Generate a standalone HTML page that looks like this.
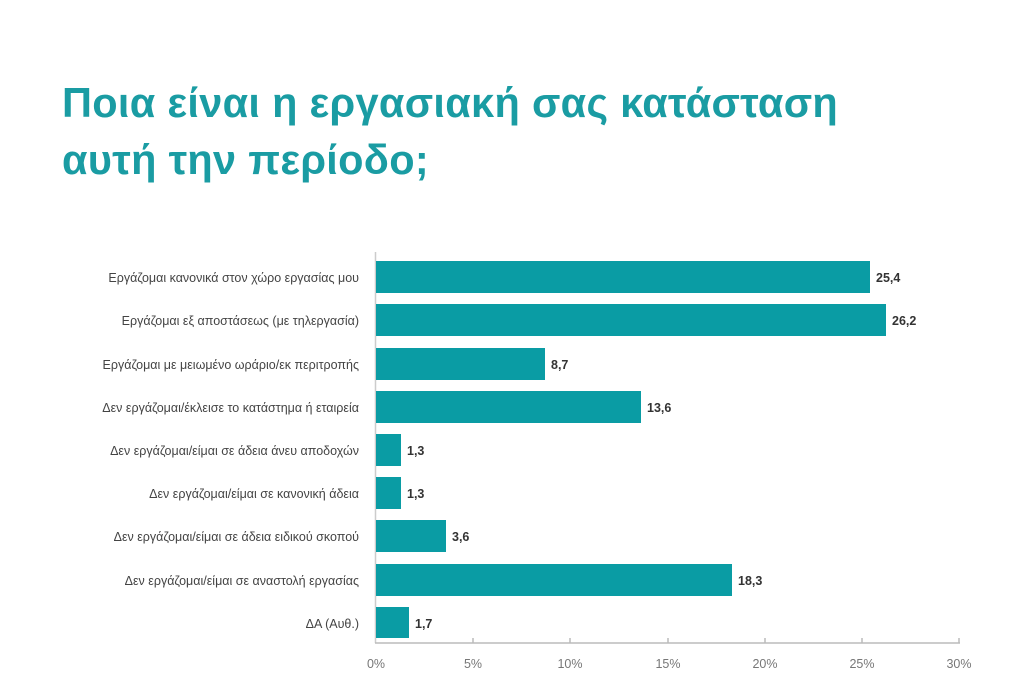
<!DOCTYPE html>
<html><head><meta charset="utf-8"><style>
body{margin:0;width:1024px;height:691px;background:#fff;overflow:hidden;font-family:"Liberation Sans","DejaVu Sans",sans-serif;}
.t{position:absolute;left:62px;color:#1a9ca3;font-weight:bold;font-size:41.5px;line-height:57px;top:74px;letter-spacing:0.3px}
</style></head><body>
<div class="t">Ποια είναι η εργασιακή σας κατάσταση<br>αυτή την περίοδο;</div>
<svg width="1024" height="691" style="position:absolute;left:0;top:0" font-family="Liberation Sans, DejaVu Sans, sans-serif">
<line x1="375.5" y1="252" x2="375.5" y2="643" stroke="#ccc" stroke-width="1.5"/>
<line x1="375" y1="643" x2="960" y2="643" stroke="#bbb" stroke-width="1.5"/>
<g stroke="#bbb" stroke-width="1.5">
<line x1="473" y1="638" x2="473" y2="643"/><line x1="570" y1="638" x2="570" y2="643"/><line x1="668" y1="638" x2="668" y2="643"/><line x1="765" y1="638" x2="765" y2="643"/><line x1="862" y1="638" x2="862" y2="643"/><line x1="959" y1="638" x2="959" y2="643"/>
</g>
<g font-size="12.5" fill="#777" text-anchor="middle">
<text x="376" y="668">0%</text><text x="473" y="668">5%</text><text x="570" y="668">10%</text><text x="668" y="668">15%</text><text x="765" y="668">20%</text><text x="862" y="668">25%</text><text x="959" y="668">30%</text>
</g>
<g fill="#0a9ca4">
<rect x="376" y="261" width="494" height="32"/>
<rect x="376" y="304" width="510" height="32"/>
<rect x="376" y="348" width="169" height="32"/>
<rect x="376" y="391" width="265" height="32"/>
<rect x="376" y="434" width="25" height="32"/>
<rect x="376" y="477" width="25" height="32"/>
<rect x="376" y="520" width="70" height="32"/>
<rect x="376" y="564" width="356" height="32"/>
<rect x="376" y="607" width="33" height="31"/>
</g>
<g font-size="12.5" fill="#333" font-weight="bold">
<text x="876" y="282">25,4</text><text x="892" y="325">26,2</text><text x="551" y="369">8,7</text><text x="647" y="412">13,6</text><text x="407" y="455">1,3</text><text x="407" y="498">1,3</text><text x="452" y="541">3,6</text><text x="738" y="585">18,3</text><text x="415" y="628">1,7</text>
</g>
<g font-size="12.5" fill="#444" text-anchor="end">
<text x="359" y="282">Εργάζομαι κανονικά στον χώρο εργασίας μου</text>
<text x="359" y="325">Εργάζομαι εξ αποστάσεως (με τηλεργασία)</text>
<text x="359" y="369">Εργάζομαι με μειωμένο ωράριο/εκ περιτροπής</text>
<text x="359" y="412">Δεν εργάζομαι/έκλεισε το κατάστημα ή εταιρεία</text>
<text x="359" y="455">Δεν εργάζομαι/είμαι σε άδεια άνευ αποδοχών</text>
<text x="359" y="498">Δεν εργάζομαι/είμαι σε κανονική άδεια</text>
<text x="359" y="541">Δεν εργάζομαι/είμαι σε άδεια ειδικού σκοπού</text>
<text x="359" y="585">Δεν εργάζομαι/είμαι σε αναστολή εργασίας</text>
<text x="359" y="628">ΔΑ (Αυθ.)</text>
</g>
</svg>
</body></html>
